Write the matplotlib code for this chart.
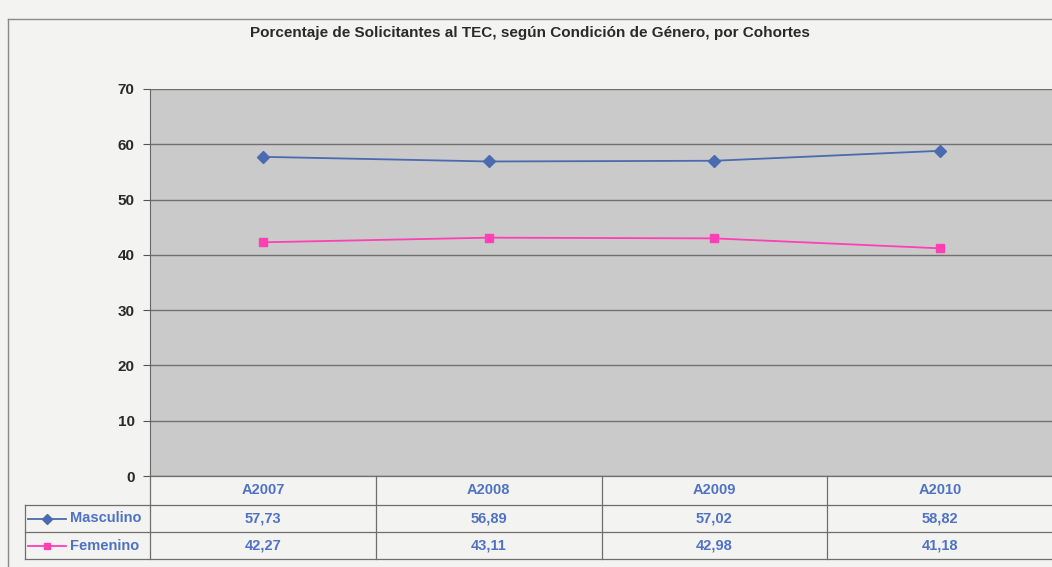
import matplotlib.pyplot as plt
from matplotlib.lines import Line2D
import matplotlib.transforms as mtransforms

cohortes = ["A2007", "A2008", "A2009", "A2010"]
masculino = [57.73, 56.89, 57.02, 58.82]
femenino = [42.27, 43.11, 42.98, 41.18]
series = ["Masculino", "Femenino"]
valores_y = [0, 10, 20, 30, 40, 50, 60, 70]

azul = "#4a6bb0"
rosa = "#ff3fb4"
texto_tabla = "#4f72c4"

plt.rcParams["font.family"] = ["Liberation Sans", "DejaVu Sans"]

W, H = 1052, 567
fig = plt.figure(figsize=(W / 100, H / 100), dpi=100, facecolor="#f3f3f1")

# marco exterior del gráfico
fig.add_artist(Line2D([8 / W, 8 / W], [0, 1 - 19 / H], transform=fig.transFigure, color="#8a8a8a", lw=1))
fig.add_artist(Line2D([8 / W, 1], [1 - 19 / H, 1 - 19 / H], transform=fig.transFigure, color="#8a8a8a", lw=1))

x0, x1 = 150, 1053
ytop, ybot = 89, 476
ax = fig.add_axes([x0 / W, 1 - ybot / H, (x1 - x0) / W, (ybot - ytop) / H])
ax.set_facecolor("#cacaca")

x = range(len(cohortes))
ax.plot(x, masculino, color=azul, marker="D", markersize=6, lw=1.3)
ax.plot(x, femenino, color=rosa, marker="s", markersize=6, lw=1.3)

ax.set_xlim(-0.5, len(cohortes) - 0.5)
ax.set_ylim(0, 70)
ax.set_yticks(valores_y)
ax.set_yticklabels([str(v) for v in valores_y], fontsize=11, fontweight="bold", color="#2a2a2a")
ax.tick_params(axis="y", length=5, color="#555555", pad=6)
ax.set_xticks([])
ax.yaxis.grid(True, color="#707070", lw=1)
ax.set_axisbelow(True)
for lado in ["top", "right", "bottom"]:
    ax.spines[lado].set_visible(False)
ax.spines["left"].set_color("#666666")

fig.text(530 / W, 1 - 33 / H, "Porcentaje de Solicitantes al TEC, según Condición de Género, por Cohortes",
         ha="center", va="center", fontsize=11, fontweight="bold", color="#2a2a2a")

# tabla de datos bajo el eje
alto = ybot - ytop
def ya(px):
    return (ybot - px) / alto

def xa(px):
    return (px - x0) / (x1 - x0)

bt = mtransforms.blended_transform_factory(ax.transData, ax.transAxes)
filas = [476, 505, 532, 559]
gris = "#6e6e6e"

# líneas horizontales
for f in filas[1:]:
    ax.plot([xa(25), 1], [ya(f)] * 2, transform=ax.transAxes, color=gris, lw=0.9, clip_on=False)
ax.plot([0, 1], [0, 0], transform=ax.transAxes, color=gris, lw=0.9, clip_on=False)
# líneas verticales
ax.plot([0, 0], [ya(filas[0]), ya(filas[3])], transform=ax.transAxes, color=gris, lw=0.9, clip_on=False)
ax.plot([xa(25), xa(25)], [ya(filas[1]), ya(filas[3])], transform=ax.transAxes, color=gris, lw=0.9, clip_on=False)
for i in range(1, len(cohortes)):
    ax.plot([i - 0.5, i - 0.5], [ya(filas[0]), ya(filas[3])], transform=bt, color=gris, lw=0.9, clip_on=False)

for i, c in enumerate(cohortes):
    ax.text(i, ya((filas[0] + filas[1]) / 2), c, transform=bt, ha="center", va="center",
            fontsize=10.5, fontweight="bold", color=texto_tabla)

datos = [masculino, femenino]
colores = [azul, rosa]
marcadores = ["D", "s"]
for k, nombre in enumerate(series):
    yc = ya((filas[k + 1] + filas[k + 2]) / 2)
    for i, v in enumerate(datos[k]):
        ax.text(i, yc, f"{v:.2f}".replace(".", ","), transform=bt, ha="center", va="center",
                fontsize=10.5, fontweight="bold", color=texto_tabla)
    ax.plot([xa(28), xa(66)], [yc, yc], transform=ax.transAxes, color=colores[k], lw=1.3, clip_on=False)
    ax.plot([xa(47)], [yc], transform=ax.transAxes, color=colores[k], marker=marcadores[k],
            markersize=5, clip_on=False)
    ax.text(xa(70), yc, nombre, transform=ax.transAxes, ha="left", va="center",
            fontsize=10.5, fontweight="bold", color=texto_tabla)

fig.savefig("out.png", dpi=100, facecolor=fig.get_facecolor())
